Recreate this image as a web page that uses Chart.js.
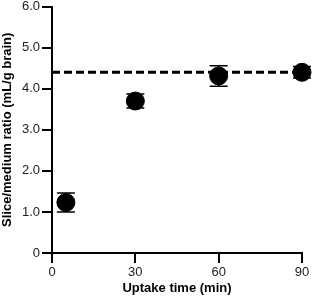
<!DOCTYPE html>
<html>
<head>
<meta charset="utf-8">
<script src="https://cdn.jsdelivr.net/npm/chart.js@4/dist/chart.umd.min.js"></script>
<style>
  html, body { margin: 0; padding: 0; background: #fff; }
  #wrap { width: 312px; height: 296px; }
</style>
</head>
<body>
<div id="wrap"><canvas id="chart" width="312" height="296"></canvas></div>
<script>
// uptake data
const times = [5, 30, 60, 90];
const ratio = [1.23, 3.70, 4.31, 4.40];
const errs = [0.23, 0.17, 0.25, 0.14];
const plateauX = [0, 93];
const plateauY = [4.4, 4.4];
const xTicks = [0, 30, 60, 90];
const yTicks = [0, 1, 2, 3, 4, 5, 6];

const points = times.map((t, i) => ({ x: t, y: ratio[i] }));
const plateau = plateauX.map((x, i) => ({ x: x, y: plateauY[i] }));

// error bars drawn with the chart scales
const errorBars = {
    id: 'errorBars',
    beforeDatasetsDraw(chart) {
        const ctx = chart.ctx;
        const xs = chart.scales.x, ys = chart.scales.y;
        ctx.save();
        ctx.strokeStyle = '#000';
        ctx.lineWidth = 1.5;
        times.forEach((t, i) => {
            const px = xs.getPixelForValue(t);
            const top = ys.getPixelForValue(ratio[i] + errs[i]);
            const bot = ys.getPixelForValue(ratio[i] - errs[i]);
            ctx.beginPath();
            ctx.moveTo(px, top); ctx.lineTo(px, bot);
            ctx.moveTo(px - 9, top); ctx.lineTo(px + 9, top);
            ctx.moveTo(px - 9, bot); ctx.lineTo(px + 9, bot);
            ctx.stroke();
        });
        ctx.restore();
    }
};

const family = '"Liberation Sans", Arial, sans-serif';
const tickFont = { family: family, size: 13 };
const titleFont = { family: family, size: 13, weight: 'bold' };

new Chart(document.getElementById('chart'), {
    type: 'scatter',
    data: {
        datasets: [
            {
                type: 'line',
                data: plateau,
                borderColor: '#000',
                borderWidth: 3,
                borderDash: [8, 4],
                pointRadius: 0,
                clip: false,
                order: 2
            },
            {
                data: points,
                backgroundColor: '#000',
                borderColor: '#000',
                pointRadius: 9,
                pointHoverRadius: 9,
                clip: false,
                order: 1
            }
        ]
    },
    options: {
        responsive: false,
        devicePixelRatio: 1,
        animation: false,
        layout: { autoPadding: false, padding: { top: 5, right: 10, left: 0, bottom: 0 } },
        plugins: { legend: { display: false }, tooltip: { enabled: false } },
        scales: {
            x: {
                type: 'linear',
                min: 0, max: 90,
                afterBuildTicks: s => { s.ticks = xTicks.map(v => ({ value: v })); },
                afterFit: s => { s.height = 43; },
                ticks: { color: '#222', font: tickFont, padding: 2 },
                grid: { drawOnChartArea: false, color: '#000', lineWidth: 2, tickLength: 10 },
                border: { color: '#000', width: 2 },
                title: { display: true, text: 'Uptake time (min)', color: '#000',
                         font: titleFont, padding: 0 }
            },
            y: {
                type: 'linear',
                min: 0, max: 6,
                afterBuildTicks: s => { s.ticks = yTicks.map(v => ({ value: v })); },
                afterFit: s => { s.width = 52; },
                ticks: { color: '#222', font: { family: family, size: 13, lineHeight: 0.7 }, padding: 2,
                         callback: v => v === 0 ? '0' : v.toFixed(1) },
                grid: { drawOnChartArea: false, color: '#000', lineWidth: 2, tickLength: 10 },
                border: { color: '#000', width: 2 },
                title: { display: true, text: 'Slice/medium ratio (mL/g brain)', color: '#000',
                         font: titleFont, padding: 0 }
            }
        }
    },
    plugins: [errorBars]
});
</script>
</body>
</html>
